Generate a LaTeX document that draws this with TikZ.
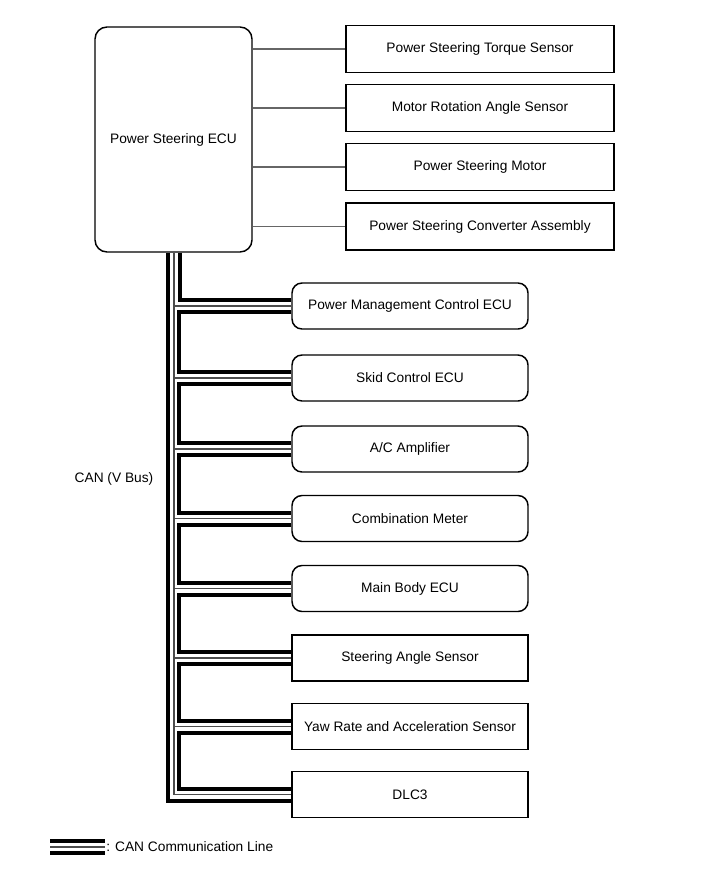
\documentclass[tikz,border=0pt]{standalone}
\usepackage{fontspec}
\setmainfont{Liberation Sans}
\usetikzlibrary{calc}

\begin{document}
\begin{tikzpicture}[x=0.75pt,y=-0.75pt,font=\fontsize{10.3}{12}\selectfont,
    ecu/.style={draw,line width=1.1pt,rounded corners=9pt,minimum width=117.75pt,minimum height=168.75pt},
    part/.style={draw,line width=1.1pt,minimum width=201pt,minimum height=35.25pt},
    unit/.style={draw,line width=1.1pt,rounded corners=7.5pt,minimum width=177pt,minimum height=34.5pt},
    box/.style={draw,line width=1.1pt,minimum width=177pt,minimum height=34.5pt},
    wire/.style={draw=black!60,line width=0.9pt},
    bus/.style={line width=3pt},
    core/.style={draw=black!70,line width=0.9pt}]
    \useasboundingbox (0,0) rectangle (713,881);

    % ECU principal
    \node[ecu] (ECU) at (173.5,139.5) {Power Steering ECU};

    % Sensores y motor a la derecha
    \node[part] (T) at (480,49) {Power Steering Torque Sensor};
    \node[part] (R) at (480,108) {Motor Rotation Angle Sensor};
    \node[part] (M) at (480,167) {Power Steering Motor};
    \node[part] (V) at (480,226.5) {Power Steering Converter Assembly};

    \foreach \n in {T,R,M,V}
      \draw[wire] (ECU.east |- \n.west) -- (\n.west);

    % Unidades en el bus CAN
    \node[unit] (P) at (410,306) {Power Management Control ECU};
    \node[unit] (S) at (410,378) {Skid Control ECU};
    \node[unit] (A) at (410,449) {A/C Amplifier};
    \node[unit] (C) at (410,518.5) {Combination Meter};
    \node[unit] (B) at (410,588.5) {Main Body ECU};
    \node[box] (G) at (410,658) {Steering Angle Sensor};
    \node[box] (Y) at (410,726.5) {Yaw Rate and Acceleration Sensor};
    \node[box] (D) at (410,794.5) {DLC3};

    % Linea CAN (dos lineas gruesas y una fina)
    \draw[bus] ($(ECU.south)+(6.5,0)$) |- ($(P.west)+(0,-6)$);
    \foreach \a/\b in {P/S,S/A,A/C,C/B,B/G,G/Y,Y/D}
      \draw[bus] ($(\a.west)+(0,6)$) -- ++(-112,0) |- ($(\b.west)+(0,-6)$);
    \draw[bus] ($(ECU.south)+(-5.5,0)$) |- ($(D.west)+(0,6)$);
    \draw[core] ($(ECU.south)+(0.5,0)$) |- (D.west);
    \foreach \n in {P,S,A,C,B,G,Y}
      \draw[core] (\n.west) -- ++(-118,0);

    \node[anchor=east] (CAN) at (158,479) {CAN (V Bus)};

    % Leyenda
    \node[anchor=west,inner sep=0pt] (L) at (106,847) {: CAN Communication Line};
    \draw[bus] ($(L.west)+(-56,-6)$) -- ++(55,0);
    \draw[core] ($(L.west)+(-56,0)$) -- ++(55,0);
    \draw[bus] ($(L.west)+(-56,6)$) -- ++(55,0);
\end{tikzpicture}
\end{document}
